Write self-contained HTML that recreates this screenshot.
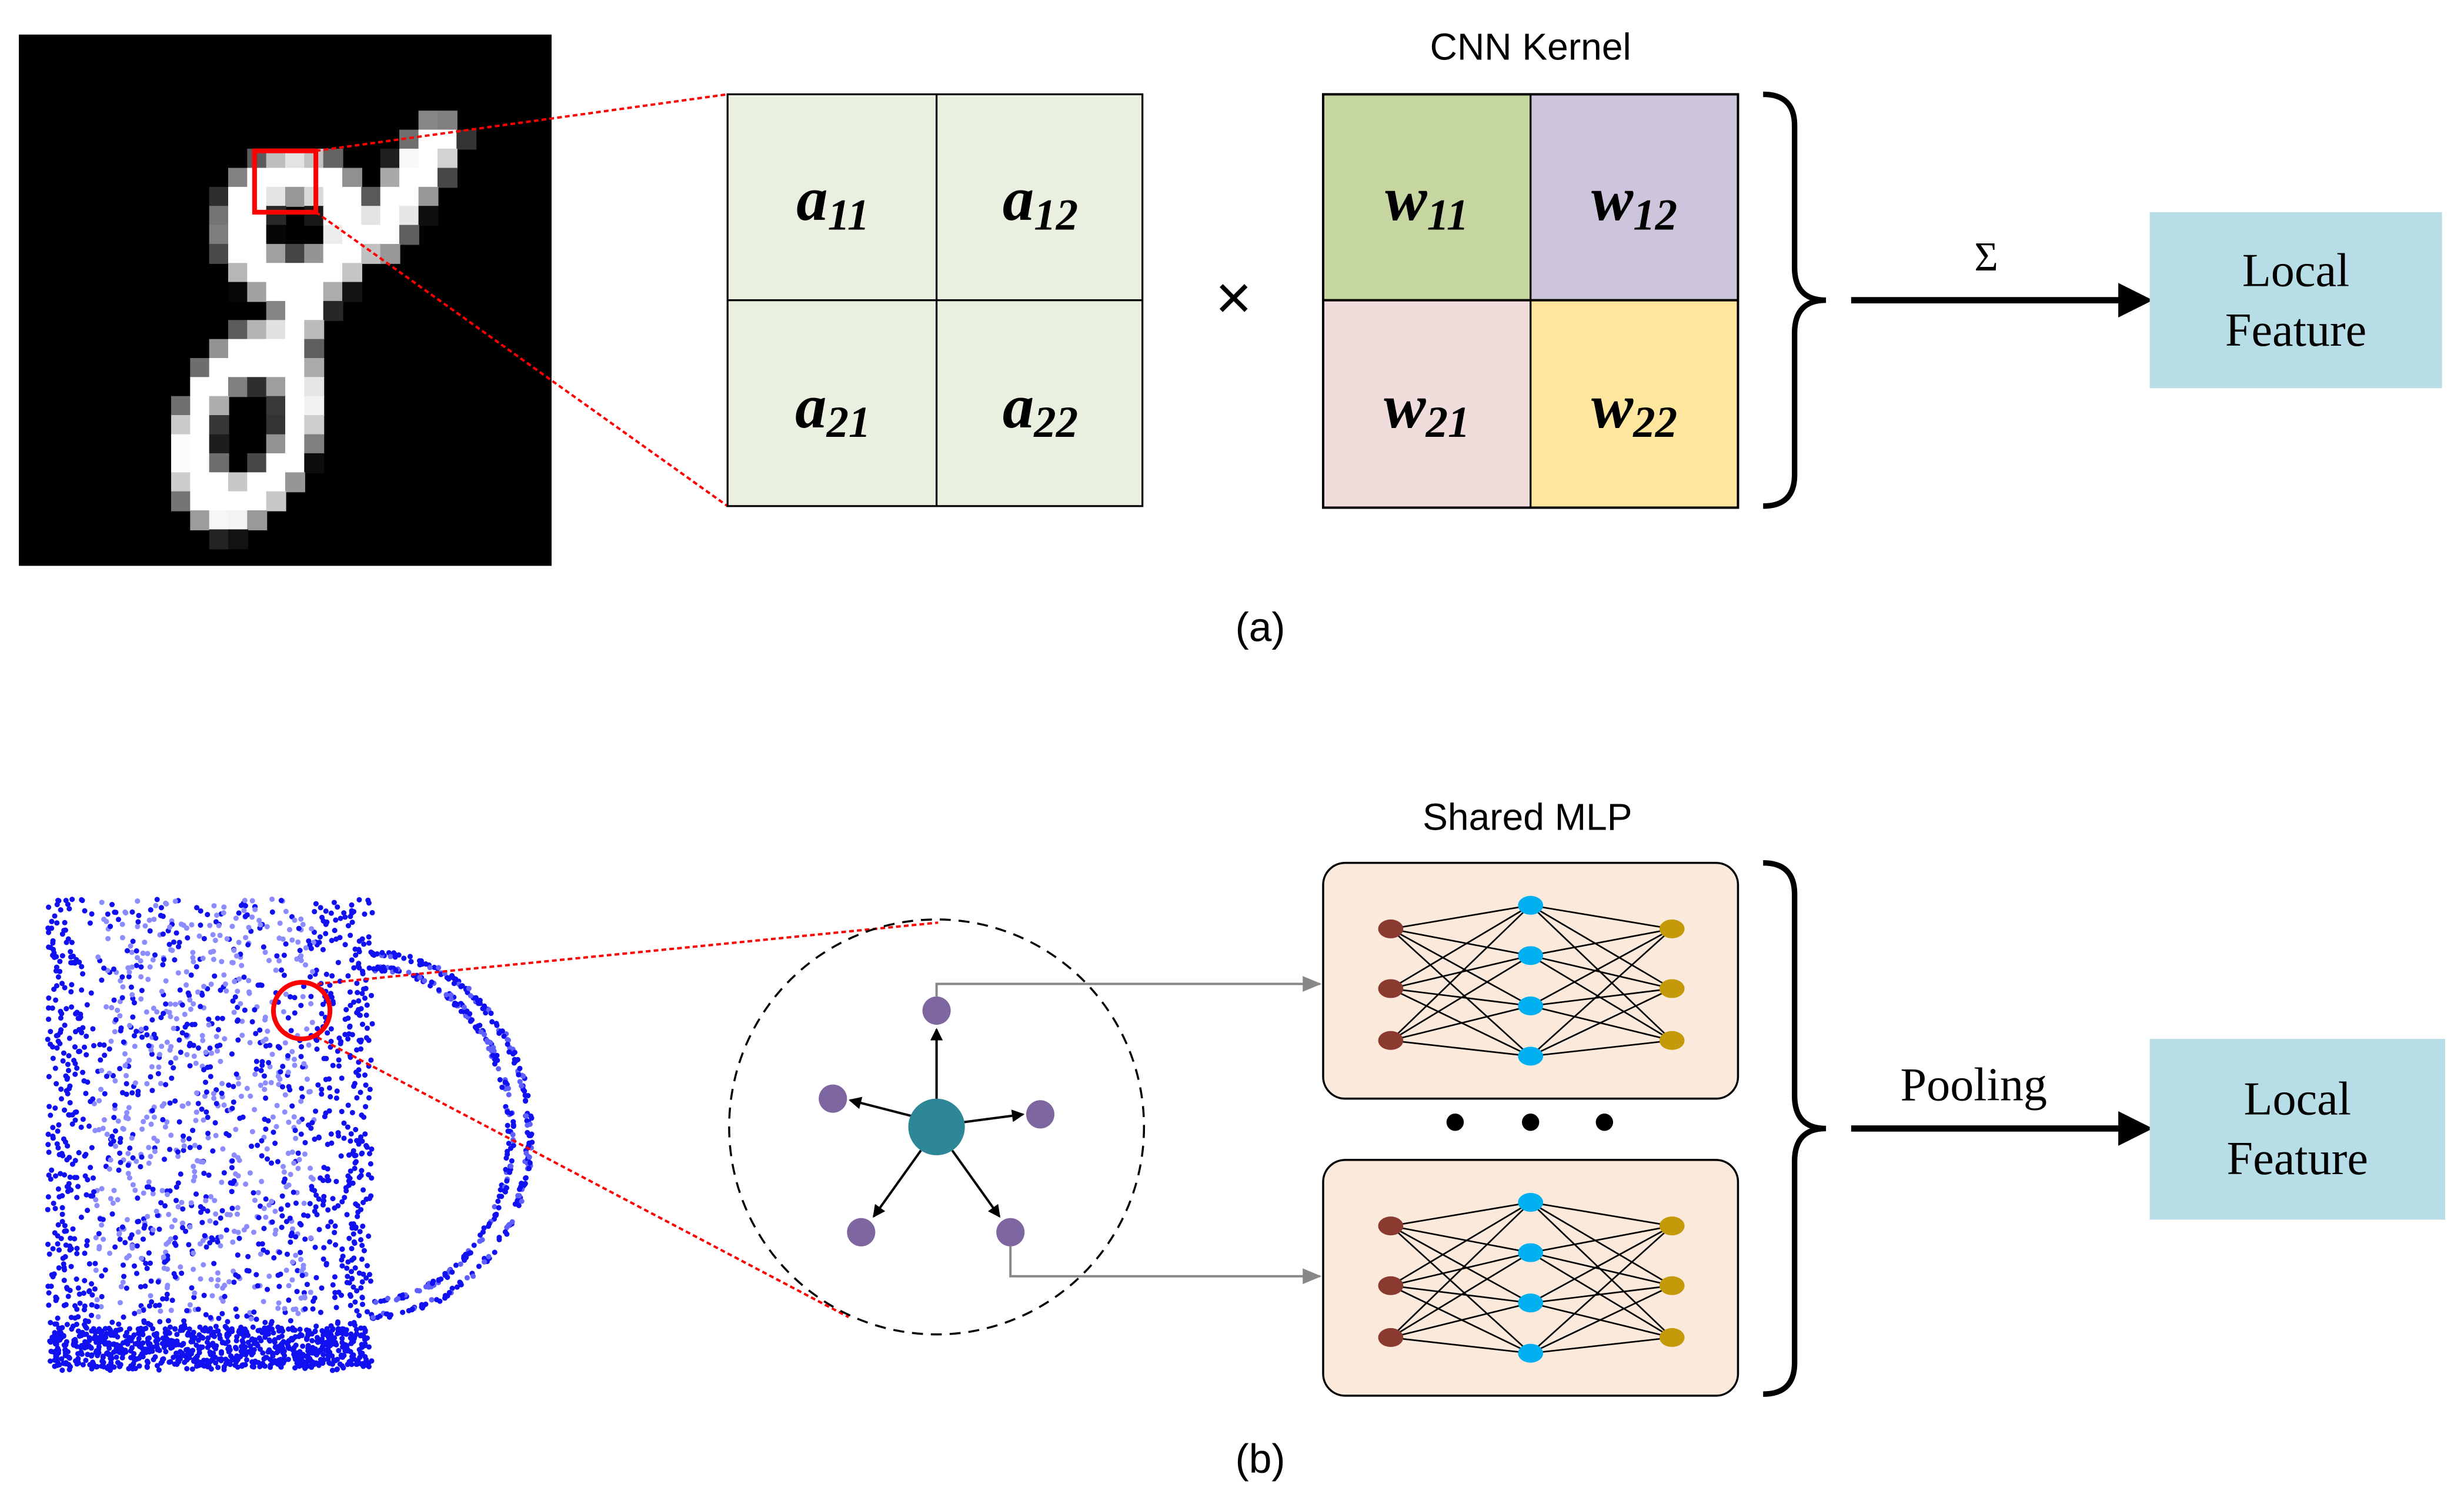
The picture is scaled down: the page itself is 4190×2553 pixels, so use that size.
<!DOCTYPE html>
<html><head><meta charset="utf-8">
<style>
html,body{margin:0;padding:0;background:#fff;}
svg{display:block;}
.sans{font-family:"Liberation Sans",sans-serif;}
.serif{font-family:"Liberation Serif",serif;}
</style></head>
<body>
<svg id="s" width="4190" height="2553" viewBox="0 0 1568 955" preserveAspectRatio="none" xmlns="http://www.w3.org/2000/svg">
<defs>
<marker id="ab" markerWidth="8" markerHeight="8" refX="7" refY="4" orient="auto" markerUnits="userSpaceOnUse"><path d="M0,0 L8,4 L0,8 z" fill="#000"/></marker>
<marker id="ag" markerWidth="12" markerHeight="10" refX="11" refY="5" orient="auto" markerUnits="userSpaceOnUse"><path d="M0,0 L12,5 L0,10 z" fill="#888"/></marker>
</defs>
<rect width="1568" height="955" fill="#fff"/>
<!-- panel a -->
<rect x="12" y="22" width="339" height="338" fill="#000"/>
<g id="digit"></g>
<rect x="162" y="96" width="39" height="39" fill="none" stroke="#f00" stroke-width="3"/>
<line x1="201" y1="96" x2="463" y2="60" stroke="#f00" stroke-width="1.5" stroke-dasharray="3,2"/>
<line x1="201" y1="135" x2="463" y2="322" stroke="#f00" stroke-width="1.5" stroke-dasharray="3,2"/>
<rect x="463" y="60" width="264" height="262" fill="#e9f0df" stroke="#000" stroke-width="1.2"/>
<line x1="596" y1="60" x2="596" y2="322" stroke="#000" stroke-width="1.2"/>
<line x1="463" y1="191" x2="727" y2="191" stroke="#000" stroke-width="1.2"/>
<g class="serif" font-style="italic" font-weight="bold" font-size="40" text-anchor="middle">
 <text x="530" y="140">a<tspan font-size="28" dy="6">11</tspan></text>
 <text x="662" y="140">a<tspan font-size="28" dy="6">12</tspan></text>
 <text x="530" y="272">a<tspan font-size="28" dy="6">21</tspan></text>
 <text x="662" y="272">a<tspan font-size="28" dy="6">22</tspan></text>
</g>
<text x="785" y="203" class="sans" font-size="40" text-anchor="middle">×</text>
<text x="974" y="38" class="sans" font-size="24" text-anchor="middle">CNN Kernel</text>
<rect x="842" y="60" width="132" height="131" fill="#c5d6a0"/>
<rect x="974" y="60" width="132" height="131" fill="#cdc5dc"/>
<rect x="842" y="191" width="132" height="132" fill="#efdcdb"/>
<rect x="974" y="191" width="132" height="132" fill="#fee69e"/>
<rect x="842" y="60" width="264" height="263" fill="none" stroke="#000" stroke-width="1.5"/>
<line x1="974" y1="60" x2="974" y2="323" stroke="#000" stroke-width="1.2"/>
<line x1="842" y1="191" x2="1106" y2="191" stroke="#000" stroke-width="1.5"/>
<g class="serif" font-style="italic" font-weight="bold" font-size="40" text-anchor="middle">
 <text x="908" y="140">w<tspan font-size="28" dy="6">11</tspan></text>
 <text x="1040" y="140">w<tspan font-size="28" dy="6">12</tspan></text>
 <text x="908" y="272">w<tspan font-size="28" dy="6">21</tspan></text>
 <text x="1040" y="272">w<tspan font-size="28" dy="6">22</tspan></text>
</g>
<path d="M1122,60 Q1142,60 1142,80 L1142,170 Q1142,191 1162,191 Q1142,191 1142,212 L1142,302 Q1142,322 1122,322" fill="none" stroke="#000" stroke-width="3.5"/>
<line x1="1178" y1="191" x2="1350" y2="191" stroke="#000" stroke-width="4"/>
<path d="M1348,180 L1370,191 L1348,202 z" fill="#000"/>
<text x="1264" y="172" class="serif" font-size="26" text-anchor="middle">Σ</text>
<rect x="1368" y="135" width="186" height="112" fill="#b7dde6"/>
<text x="1461" y="182" class="serif" font-size="30" text-anchor="middle">Local</text>
<text x="1461" y="220" class="serif" font-size="30" text-anchor="middle">Feature</text>
<text x="802" y="408" class="sans" font-size="26" text-anchor="middle">(a)</text>

<!-- panel b -->
<g id="mug"></g>
<circle cx="192" cy="643" r="18" fill="none" stroke="#f00" stroke-width="3"/>
<line x1="202" y1="626" x2="597" y2="587" stroke="#f00" stroke-width="1.5" stroke-dasharray="3,2"/>
<line x1="202" y1="660" x2="540" y2="838" stroke="#f00" stroke-width="1.5" stroke-dasharray="3,2"/>
<circle cx="596" cy="717" r="132" fill="none" stroke="#000" stroke-width="1.3" stroke-dasharray="7,5"/>
<g stroke="#000" stroke-width="1.5" marker-end="url(#ab)">
 <line x1="596" y1="700" x2="596" y2="655"/>
 <line x1="580" y1="710" x2="541" y2="700"/>
 <line x1="613" y1="714" x2="651" y2="709"/>
 <line x1="586" y1="732" x2="556" y2="774"/>
 <line x1="606" y1="732" x2="636" y2="774"/>
</g>
<circle cx="596" cy="717" r="18" fill="#2e8797"/>
<g fill="#7e66a0">
 <circle cx="596" cy="643" r="9"/><circle cx="530" cy="699" r="9"/><circle cx="662" cy="709" r="9"/>
 <circle cx="548" cy="784" r="9"/><circle cx="643" cy="784" r="9"/>
</g>
<path d="M596,634 L596,626 L840,626" fill="none" stroke="#888" stroke-width="1.5" marker-end="url(#ag)"/>
<path d="M643,793 L643,812 L840,812" fill="none" stroke="#888" stroke-width="1.5" marker-end="url(#ag)"/>
<text x="972" y="528" class="sans" font-size="24" text-anchor="middle">Shared MLP</text>
<g id="mlp"></g>
<g fill="#000"><circle cx="926" cy="714" r="5.5"/><circle cx="974" cy="714" r="5.5"/><circle cx="1021" cy="714" r="5.5"/></g>
<path d="M1122,549 Q1142,549 1142,569 L1142,697 Q1142,718 1162,718 Q1142,718 1142,739 L1142,867 Q1142,887 1122,887" fill="none" stroke="#000" stroke-width="3.5"/>
<line x1="1178" y1="718" x2="1350" y2="718" stroke="#000" stroke-width="4"/>
<path d="M1348,707 L1370,718 L1348,729 z" fill="#000"/>
<text x="1256" y="700" class="serif" font-size="30" text-anchor="middle">Pooling</text>
<rect x="1368" y="661" width="188" height="115" fill="#b7dde6"/>
<text x="1462" y="709" class="serif" font-size="30" text-anchor="middle">Local</text>
<text x="1462" y="747" class="serif" font-size="30" text-anchor="middle">Feature</text>
<text x="802" y="937" class="sans" font-size="26" text-anchor="middle">(b)</text>
</svg>
<script>
(function(){
var NS="http://www.w3.org/2000/svg";
function el(t,a,p){var e=document.createElementNS(NS,t);for(var k in a)e.setAttribute(k,a[k]);p.appendChild(e);return e;}
// digit as pixel grid
function segD(px,py,x1,y1,x2,y2){var dx=x2-x1,dy=y2-y1,t=((px-x1)*dx+(py-y1)*dy)/(dx*dx+dy*dy);t=Math.max(0,Math.min(1,t));var qx=x1+t*dx-px,qy=y1+t*dy-py;return Math.sqrt(qx*qx+qy*qy);}
function ellD(px,py,cx,cy,rx,ry,ang){var a=ang*Math.PI/180,c=Math.cos(a),s=Math.sin(a);var x=(px-cx)*c+(py-cy)*s,y=-(px-cx)*s+(py-cy)*c;var r=Math.sqrt((x*x)/(rx*rx)+(y*y)/(ry*ry));var rr=(rx+ry)/2;return Math.abs(r-1)*rr;}
var dg=document.getElementById("digit"),cs=339/28,html=[];
for(var i=0;i<28;i++)for(var j=0;j<28;j++){
 var x=12+j*cs,y=22+i*cs,px=x+cs/2,py=y+cs/2;
 var d=Math.min(ellD(px,py,188,145,34,34,0),segD(px,py,240,150,278,90),segD(px,py,198,180,178,232),ellD(px,py,157,272,32,50,20));
 var v=1-(d-9)/12;if(v<=0)continue;v=Math.min(1,v);var c=Math.round(255*v);
 html.push('<rect x="'+x.toFixed(1)+'" y="'+y.toFixed(1)+'" width="'+(cs+0.6).toFixed(1)+'" height="'+(cs+0.6).toFixed(1)+'" fill="rgb('+c+','+c+','+c+')"/>');
}
dg.innerHTML=html.join("");
// MLP boxes
var mlp=document.getElementById("mlp");
[0,189].forEach(function(dy){
 el("rect",{x:842,y:549+dy,width:264,height:150,rx:14,ry:14,fill:"#fbe9dc",stroke:"#000","stroke-width":1.3},mlp);
 var L=[591,629,662].map(function(y){return y+dy;}),M=[576,608,640,672].map(function(y){return y+dy;}),R=L;
 L.forEach(function(a){M.forEach(function(b){el("line",{x1:885,y1:a,x2:974,y2:b,stroke:"#000","stroke-width":1},mlp);});});
 M.forEach(function(a){R.forEach(function(b){el("line",{x1:974,y1:a,x2:1064,y2:b,stroke:"#000","stroke-width":1},mlp);});});
 L.forEach(function(y){el("ellipse",{cx:885,cy:y,rx:8,ry:6,fill:"#8b3a30"},mlp);});
 M.forEach(function(y){el("ellipse",{cx:974,cy:y,rx:8,ry:6,fill:"#00b0f0"},mlp);});
 R.forEach(function(y){el("ellipse",{cx:1064,cy:y,rx:8,ry:6,fill:"#c59a0a"},mlp);});
});
// mug point cloud
var g=document.getElementById("mug");var s=12345;
function r(){s=(s*1103515245+12345)&0x7fffffff;return s/0x7fffffff;}
var pts=[];
for(var i=0;i<2600;i++){
 var x=30+r()*207,y=572+r()*300;
 var edge=(x<45||x>222||y>840);
 if(!edge&&r()<0.35)continue;
 var light=(!edge&&x>60&&x<200&&r()<0.5);
 pts.push('<circle cx="'+x.toFixed(1)+'" cy="'+y.toFixed(1)+'" r="1.7" fill="'+(light?"#8c8cff":"#1010f0")+'"/>');
}
for(var i=0;i<600;i++){
 var y=845+r()*25,x=32+r()*203;
 pts.push('<circle cx="'+x.toFixed(1)+'" cy="'+y.toFixed(1)+'" r="1.7" fill="#1010f0"/>');
}
for(var i=0;i<420;i++){
 var t=-Math.PI/2+r()*Math.PI;var rr=(r()<0.5?0:12)+r()*4;
 var cx=237,cy=722,ax=86+rr,ay=104+rr*0.8;
 var x=cx+ax*Math.cos(t),y=cy+ay*Math.sin(t);
 pts.push('<circle cx="'+x.toFixed(1)+'" cy="'+y.toFixed(1)+'" r="1.7" fill="'+(r()<0.3?"#6060ff":"#1010f0")+'"/>');
}
g.innerHTML=pts.join("");
})();
</script>
</body></html>
